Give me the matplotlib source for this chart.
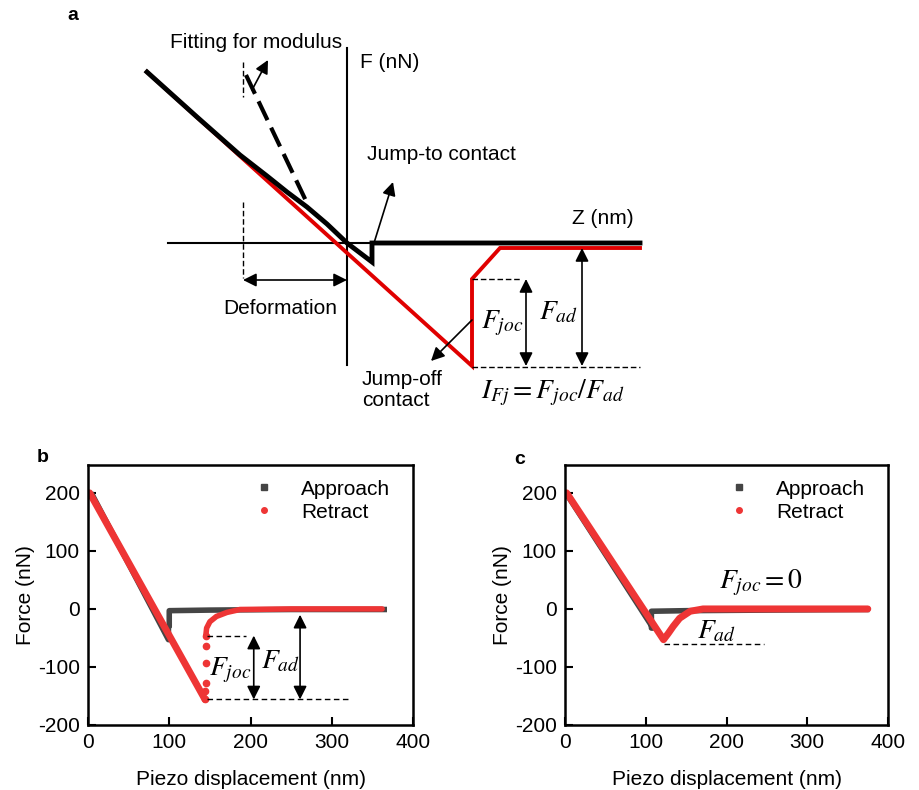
import numpy as np
import matplotlib
matplotlib.use("Agg")
import matplotlib.pyplot as plt

plt.rcParams['font.family'] = ['Liberation Sans', 'DejaVu Sans']
plt.rcParams['mathtext.fontset'] = 'stix'
plt.rcParams['axes.unicode_minus'] = False

# ---- panel a: schematic force curve (Z, F in arbitrary units) ----
sch_app_z = [-200, -150, -107, -80, -60, -40, -20, 0, 25, 25, 293]
sch_app_f = [171, 126, 88, 67, 51, 36, 19, 0, -19, 0, 0]
sch_ret_z = [-200, 125, 125, 153, 293]
sch_ret_f = [171, -123, -36, -5, -5]
sch_fit_z = [-101, -40]
sch_fit_f = [168, 40]

# ---- panel b: measured curve with jump-off contact ----
b_app_x = [4, 99, 99, 100, 100, 150, 250, 368]
b_app_y = [200, -53, -30, -30, -3, -2, -1, -1]
b_ret_in_x = [2, 144]
b_ret_in_y = [200, -156]
b_jump_x = [144, 144, 145, 145, 145, 145]
b_jump_y = [-156, -142, -127, -93, -64, -46]
b_ret_out_x = [145, 146, 150, 158, 171, 187, 250, 362]
b_ret_out_y = [-46, -33, -22, -13, -6, -1, 0, 0]

# ---- panel c: measured curve without jump-off contact ----
c_app_x = [1, 109, 107, 107, 150, 250, 377]
c_app_y = [200, -33, -33, -4, -3, -2, -1]
c_ret_x = [2, 122, 128, 134, 142, 155, 171, 250, 375]
c_ret_y = [200, -53, -42, -30, -16, -4, 0, 0, 0]

app_color = '#454545'
ret_color = '#ee3535'
fs = 15
mfs = 20

fig = plt.figure(figsize=(9.19, 7.90), dpi=100)

# panel a axes: 1 data unit = 1 pixel, origin at the axis crossing
axa = fig.add_axes([0, 370 / 790, 1, 420 / 790])
axa.set_xlim(-347, 572)
axa.set_ylim(-177, 243)
axa.axis('off')

axa.plot([0, 0], [195, -122], color='black', lw=1.5)
axa.plot([-179, 293], [0, 0], color='black', lw=1.5)
axa.plot(sch_ret_z, sch_ret_f, color='#e00000', lw=2.8, solid_joinstyle='miter')
axa.plot(sch_app_z, sch_app_f, color='black', lw=3.5, solid_joinstyle='miter')
axa.plot(sch_fit_z, sch_fit_f, color='black', lw=3, dashes=(5, 2))

axa.plot([-104, -104], [181, 146], color='black', lw=1, dashes=(4, 2))
axa.plot([-104, -104], [41, -35], color='black', lw=1, dashes=(4, 2))
axa.plot([125, 173], [-36, -36], color='black', lw=1, dashes=(4, 2))
axa.plot([125, 293], [-124, -124], color='black', lw=1, dashes=(4, 2))

arr = dict(arrowstyle='-|>', color='black', lw=1.2, mutation_scale=20, shrinkA=0, shrinkB=0)
darr = dict(arrowstyle='<|-|>', color='black', lw=1.2, mutation_scale=20, shrinkA=0, shrinkB=0)
axa.annotate('', xy=(-79, 183), xytext=(-95, 153), arrowprops=arr)
axa.annotate('', xy=(46, 61), xytext=(27, 0), arrowprops=arr)
axa.annotate('', xy=(84, -118), xytext=(125, -77), arrowprops=arr)
axa.annotate('', xy=(-104, -37), xytext=(0, -37), arrowprops=darr)
axa.annotate('', xy=(179, -36), xytext=(179, -123), arrowprops=darr)
axa.annotate('', xy=(235, -5), xytext=(235, -123), arrowprops=darr)

axa.text(-91, 200, 'Fitting for modulus', fontsize=fs, ha='center', va='center')
axa.text(13, 181, 'F (nN)', fontsize=fs, ha='left', va='center')
axa.text(20, 88, 'Jump-to contact', fontsize=fs, ha='left', va='center')
axa.text(256, 25, 'Z (nm)', fontsize=fs, ha='center', va='center')
axa.text(-67, -66, 'Deformation', fontsize=fs, ha='center', va='center')
axa.text(15, -147, 'Jump-off\ncontact', fontsize=fs, ha='left', va='center',
         linespacing=1.1)
axa.text(155, -80, r'$F_{joc}$', fontsize=mfs, ha='center', va='center')
axa.text(211, -69, r'$F_{ad}$', fontsize=mfs, ha='center', va='center')
axa.text(206, -150, r'$I_{Fj}=F_{joc}/F_{ad}$', fontsize=mfs, ha='center', va='center')
axa.text(-274, 228, 'a', fontsize=14, fontweight='bold', ha='center', va='center')


def style_axes(ax):
    ax.set_xlim(0, 400)
    ax.set_ylim(-200, 248)
    ax.set_xticks([0, 100, 200, 300, 400])
    ax.set_yticks([-200, -100, 0, 100, 200])
    ax.tick_params(direction='in', length=6, width=1.5, labelsize=fs,
                   top=False, right=False, pad=6)
    for s in ax.spines.values():
        s.set_linewidth(1.8)
    ax.set_xlabel('Piezo displacement (nm)', fontsize=fs, labelpad=13)
    ax.set_ylabel('Force (nN)', fontsize=fs, labelpad=2)
    h1, = ax.plot([], [], 's', color=app_color, ms=4, label='Approach')
    h2, = ax.plot([], [], 'o', color=ret_color, ms=4, label='Retract')
    ax.legend(handles=[h1, h2], loc='upper right', frameon=False, fontsize=fs,
              handlelength=1.0, handletextpad=1.3, labelspacing=0.2,
              borderaxespad=0.3, bbox_to_anchor=(0.975, 1.0))


# panel b
axb = fig.add_axes([88 / 919, 65 / 790, 325 / 919, 260 / 790])
axb.plot(b_app_x, b_app_y, color=app_color, lw=4, solid_capstyle='butt')
axb.plot(b_ret_in_x, b_ret_in_y, color=ret_color, lw=5, solid_capstyle='round')
axb.plot(b_jump_x, b_jump_y, 'o', color=ret_color, ms=4.5, ls='none')
axb.plot(b_ret_out_x, b_ret_out_y, color=ret_color, lw=4, solid_capstyle='round')
axb.plot([146, 195], [-46, -46], color='black', lw=1, dashes=(4, 2.5))
axb.plot([146, 321], [-156, -156], color='black', lw=1, dashes=(4, 2.5))
axb.annotate('', xy=(204, -46), xytext=(204, -156), arrowprops=darr)
axb.annotate('', xy=(261, -10), xytext=(261, -156), arrowprops=darr)
axb.text(175, -105, r'$F_{joc}$', fontsize=mfs, ha='center', va='center')
axb.text(237, -91, r'$F_{ad}$', fontsize=mfs, ha='center', va='center')
style_axes(axb)
fig.text(43 / 919, 1 - 458 / 790, 'b', fontsize=14, fontweight='bold', ha='center', va='center')

# panel c
axc = fig.add_axes([565 / 919, 65 / 790, 323 / 919, 260 / 790])
axc.plot(c_app_x, c_app_y, color=app_color, lw=4, solid_capstyle='butt')
axc.plot(c_ret_x, c_ret_y, color=ret_color, lw=5, solid_capstyle='round')
axc.plot([122, 247], [-60, -60], color='black', lw=1, dashes=(4, 2.5))
axc.text(243, 45, r'$F_{joc}=0$', fontsize=mfs, ha='center', va='center')
axc.text(188, -39, r'$F_{ad}$', fontsize=mfs, ha='center', va='center')
style_axes(axc)
fig.text(520 / 919, 1 - 460 / 790, 'c', fontsize=14, fontweight='bold', ha='center', va='center')

fig.savefig('out.png', dpi=100)
